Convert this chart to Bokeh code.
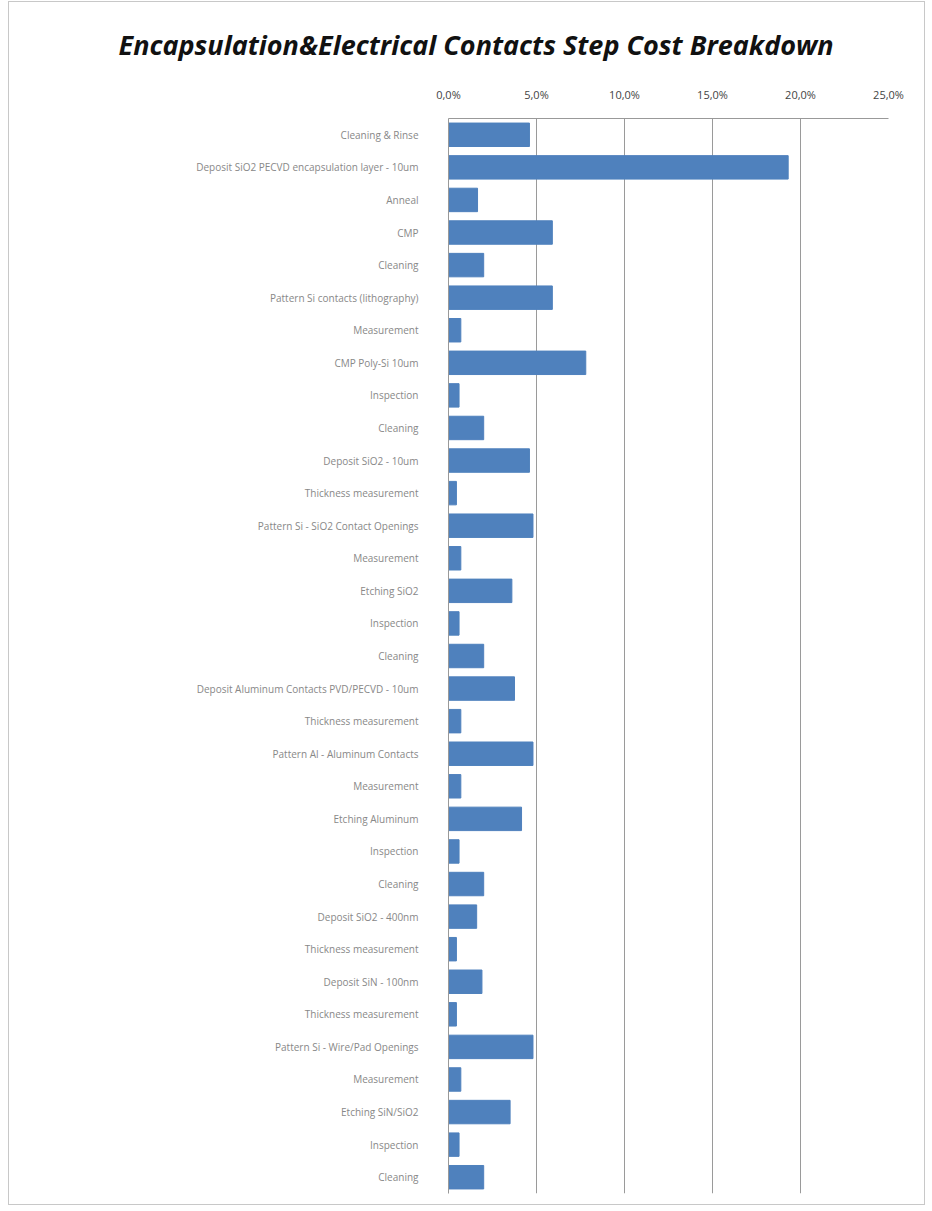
from bokeh.plotting import figure
from bokeh.models import Range1d, FixedTicker
from bokeh.embed import file_html
from bokeh.resources import INLINE

steps = [
    "Cleaning & Rinse",
    "Deposit SiO2 PECVD encapsulation layer - 10um",
    "Anneal",
    "CMP",
    "Cleaning",
    "Pattern Si contacts (lithography)",
    "Measurement",
    "CMP Poly-Si 10um",
    "Inspection",
    "Cleaning",
    "Deposit SiO2 - 10um",
    "Thickness measurement",
    "Pattern Si - SiO2 Contact Openings",
    "Measurement",
    "Etching SiO2",
    "Inspection",
    "Cleaning",
    "Deposit Aluminum Contacts PVD/PECVD - 10um",
    "Thickness measurement",
    "Pattern Al - Aluminum Contacts",
    "Measurement",
    "Etching Aluminum",
    "Inspection",
    "Cleaning",
    "Deposit SiO2 - 400nm",
    "Thickness measurement",
    "Deposit SiN - 100nm",
    "Thickness measurement",
    "Pattern Si - Wire/Pad Openings",
    "Measurement",
    "Etching SiN/SiO2",
    "Inspection",
    "Cleaning",
]
cost_pct = [4.6, 19.3, 1.65, 5.9, 2.0, 5.9, 0.7, 7.8, 0.6, 2.0,
            4.6, 0.45, 4.8, 0.7, 3.6, 0.6, 2.0, 3.75, 0.7, 4.8,
            0.7, 4.15, 0.6, 2.0, 1.6, 0.45, 1.9, 0.45, 4.8, 0.7,
            3.5, 0.6, 2.0]
x_ticks = [0, 5, 10, 15, 20, 25]
x_tick_labels = ["0,0%", "5,0%", "10,0%", "15,0%", "20,0%", "25,0%"]
chart_title = "Encapsulation&Electrical Contacts Step Cost Breakdown"

n = len(steps)
pos = list(range(1, n + 1))

W, H = 917, 1204
p = figure(width=W, height=H, output_backend="svg", toolbar_location=None,
           x_range=Range1d(0, 25), y_range=Range1d(n + 0.5, 0.5),
           x_axis_location="above",
           min_border_left=439, min_border_right=38, min_border_top=100,
           min_border_bottom=13)
p.styles = {"border": "1px solid #c8c8c8", "box-sizing": "border-box",
            "margin-left": "8px", "margin-top": "1px"}

p.hbar(y=pos, right=cost_pct, left=0, height=0.72, fill_color="#4F81BD",
       line_color="#4F81BD")

p.title.text = chart_title
p.title.text_font = "Open Sans"
p.title.text_font_style = "bold italic"
p.title.text_font_size = "27px"
p.title.align = "left"
p.title.offset = -330
p.title.text_color = "#111111"
p.title.standoff = 42

p.xaxis.ticker = FixedTicker(ticks=x_ticks)
p.xaxis.major_label_overrides = {t: l for t, l in zip(x_ticks, x_tick_labels)}
p.xaxis.major_label_text_font = "Open Sans"
p.xaxis.major_label_text_font_size = "11px"
p.xaxis.major_label_text_color = "#444444"
p.xaxis.axis_line_color = "#999999"
p.xaxis.major_tick_line_color = None
p.xaxis.minor_tick_line_color = None
p.xaxis.major_label_standoff = 11

p.yaxis.ticker = FixedTicker(ticks=pos)
p.yaxis.major_label_overrides = {i: s for i, s in zip(pos, steps)}
p.yaxis.major_label_text_font = "Open Sans"
p.yaxis.major_label_text_font_size = "10px"
p.yaxis.major_label_text_color = "#888888"
p.yaxis.axis_line_color = "#999999"
p.yaxis.major_tick_line_color = None
p.yaxis.minor_tick_line_color = None
p.yaxis.major_label_standoff = 24

p.xgrid.ticker = FixedTicker(ticks=x_ticks)
p.xgrid.grid_line_color = "#9a9a9a"
p.ygrid.grid_line_color = None
p.outline_line_color = None

open("out.html", "w").write(file_html(p, INLINE))
